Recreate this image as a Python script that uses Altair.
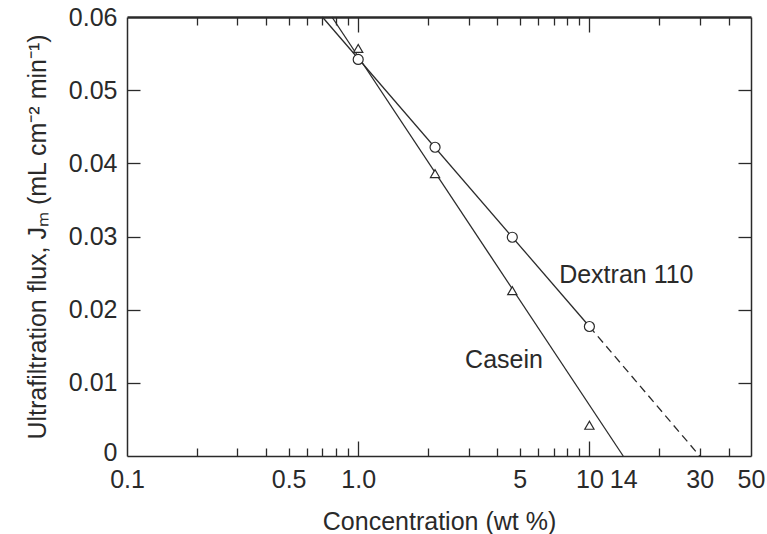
import altair as alt
import pandas as pd

# ---- data ----
conc = [1.0, 2.15, 4.64, 10.0]
dextran_flux = [0.0542, 0.0422, 0.0299, 0.0177]
casein_flux = [0.0557, 0.0386, 0.0226, 0.0042]

dex_fit_x = [0.70, 10.0]
dex_fit_y = [0.06, 0.0177]
dex_ext_x = [10.0, 30.0]
dex_ext_y = [0.0177, 0.0]
cas_fit_x = [0.77, 14.0]
cas_fit_y = [0.06, 0.0]

label_text = ["Dextran 110", "Casein"]
label_x = [7.4, 2.9]
label_y = [0.0247, 0.0131]

x_label_values = [0.1, 0.5, 1, 5, 10, 14, 30, 50]
x_label_text = ["0.1", "0.5", "1.0", "5", "10", "14", "30", "50"]
x_tick_values = [0.2, 0.3, 0.4, 0.5, 0.6, 0.7, 0.8, 0.9, 1,
                 2, 3, 4, 5, 6, 7, 8, 9, 10, 20, 30, 40]
x_major_ticks = [1, 10]
y_values = [0, 0.01, 0.02, 0.03, 0.04, 0.05, 0.06]
y_label_text = ["0", "0.01", "0.02", "0.03", "0.04", "0.05", "0.06"]

W, H = 624, 439
FONT = "Liberation Sans"
FS = 25
INK = "#2a2a2a"

points = pd.DataFrame({"x": conc, "dex": dextran_flux, "cas": casein_flux})
dex_fit = pd.DataFrame({"x": dex_fit_x, "y": dex_fit_y})
dex_ext = pd.DataFrame({"x": dex_ext_x, "y": dex_ext_y})
cas_fit = pd.DataFrame({"x": cas_fit_x, "y": cas_fit_y})
labels = pd.DataFrame({"t": label_text, "x": label_x, "y": label_y})


def ternary(values, texts):
    expr = "''"
    for v, t in reversed(list(zip(values, texts))):
        expr = f"abs(datum.value - {v}) < 1e-9 ? '{t}' : ({expr})"
    return expr


major_test = " || ".join(f"abs(datum.value - {v}) < 1e-9" for v in x_major_ticks)
x_tick_size = {"condition": {"test": major_test, "value": 15}, "value": 8}

xscale = alt.Scale(type="log", domain=[0.1, 50], nice=False)
yscale = alt.Scale(domain=[0, 0.06], nice=False, zero=False)

ax_x_labels = alt.Axis(
    orient="bottom", values=x_label_values, labelExpr=ternary(x_label_values, x_label_text),
    ticks=False, domain=True, domainColor=INK, domainWidth=1.5, grid=False,
    labelFont=FONT, labelFontSize=FS, labelColor=INK, labelPadding=11,
    labelOverlap=False, labelFlush=False, labelBound=False,
    title="Concentration (wt %)", titleFont=FONT, titleFontSize=FS,
    titleFontWeight="normal", titleColor=INK, titlePadding=17,
)
ax_x_bottom_ticks = alt.Axis(
    orient="top", offset=-H, values=x_tick_values, labels=False, domain=False,
    ticks=True, tickSize=x_tick_size, tickColor=INK, tickWidth=1.3, grid=False,
)
ax_x_top_ticks = alt.Axis(
    orient="bottom", offset=-H, values=x_tick_values, labels=False, domain=True,
    domainColor=INK, domainWidth=2.5, ticks=True, tickSize=x_tick_size,
    tickColor=INK, tickWidth=1.3, grid=False,
)
ax_y_labels = alt.Axis(
    orient="left", values=y_values, labelExpr=ternary(y_values, y_label_text),
    ticks=False, domain=True, domainColor=INK, domainWidth=1.5, grid=False,
    labelFont=FONT, labelFontSize=FS, labelColor=INK, labelPadding=10,
    labelOffset={"condition": {"test": "datum.value == 0", "value": -4}, "value": 0},
    title="Ultrafiltration flux, Jₘ (mL cm⁻² min⁻¹)", titleFont=FONT,
    titleFontSize=FS, titleFontWeight="normal", titleColor=INK, titlePadding=18,
)
ax_y_left_ticks = alt.Axis(
    orient="right", offset=-W, values=y_values[1:-1], labels=False, domain=False,
    ticks=True, tickSize=13, tickColor=INK, tickWidth=1.3, grid=False,
)
ax_y_right_ticks = alt.Axis(
    orient="left", offset=-W, values=y_values[1:-1], labels=False, domain=True,
    domainColor=INK, domainWidth=1.5, ticks=True, tickSize=13, tickColor=INK,
    tickWidth=1.3, grid=False,
)


def X(field, axis):
    if axis is None:
        return alt.X(field, type="quantitative", scale=xscale, axis=None)
    if axis.to_dict().get("title") is None:
        return alt.X(field, type="quantitative", scale=xscale, axis=axis, title=None)
    return alt.X(field, type="quantitative", scale=xscale, axis=axis)


def Y(field, axis):
    if axis is None:
        return alt.Y(field, type="quantitative", scale=yscale, axis=None)
    if axis.to_dict().get("title") is None:
        return alt.Y(field, type="quantitative", scale=yscale, axis=axis, title=None)
    return alt.Y(field, type="quantitative", scale=yscale, axis=axis)


line_dex = alt.Chart(dex_fit).mark_line(color=INK, strokeWidth=1.3).encode(
    x=X("x", ax_x_labels), y=Y("y", ax_y_labels))
line_ext = alt.Chart(dex_ext).mark_line(color=INK, strokeWidth=1.3, strokeDash=[8, 5]).encode(
    x=X("x", None), y=Y("y", None))
line_cas = alt.Chart(cas_fit).mark_line(color=INK, strokeWidth=1.3).encode(
    x=X("x", None), y=Y("y", None))

circles = alt.Chart(points).mark_point(
    shape="circle", size=100, fill="white", fillOpacity=1, stroke=INK,
    strokeWidth=1.2, opacity=1).encode(
    x=X("x", ax_x_bottom_ticks), y=Y("dex", ax_y_left_ticks))
triangles = alt.Chart(points).mark_point(
    shape="triangle-up", size=85, fill="white", fillOpacity=1, stroke=INK,
    strokeWidth=1.2, opacity=1).encode(
    x=X("x", ax_x_top_ticks), y=Y("cas", ax_y_right_ticks))

text = alt.Chart(labels).mark_text(
    align="left", baseline="middle", font=FONT, fontSize=FS, color=INK).encode(
    x=X("x", None), y=Y("y", None), text="t:N")

chart = alt.layer(line_dex, line_ext, line_cas, circles, triangles, text).resolve_axis(
    x="independent", y="independent"
).properties(
    width=W, height=H,
    padding={"left": 127, "top": 17, "right": 16, "bottom": 78},
    autosize=alt.AutoSizeParams(type="none"),
    background="white",
).configure_view(stroke=None)

chart.save("out.html", embed_options={"renderer": "svg", "actions": False})
